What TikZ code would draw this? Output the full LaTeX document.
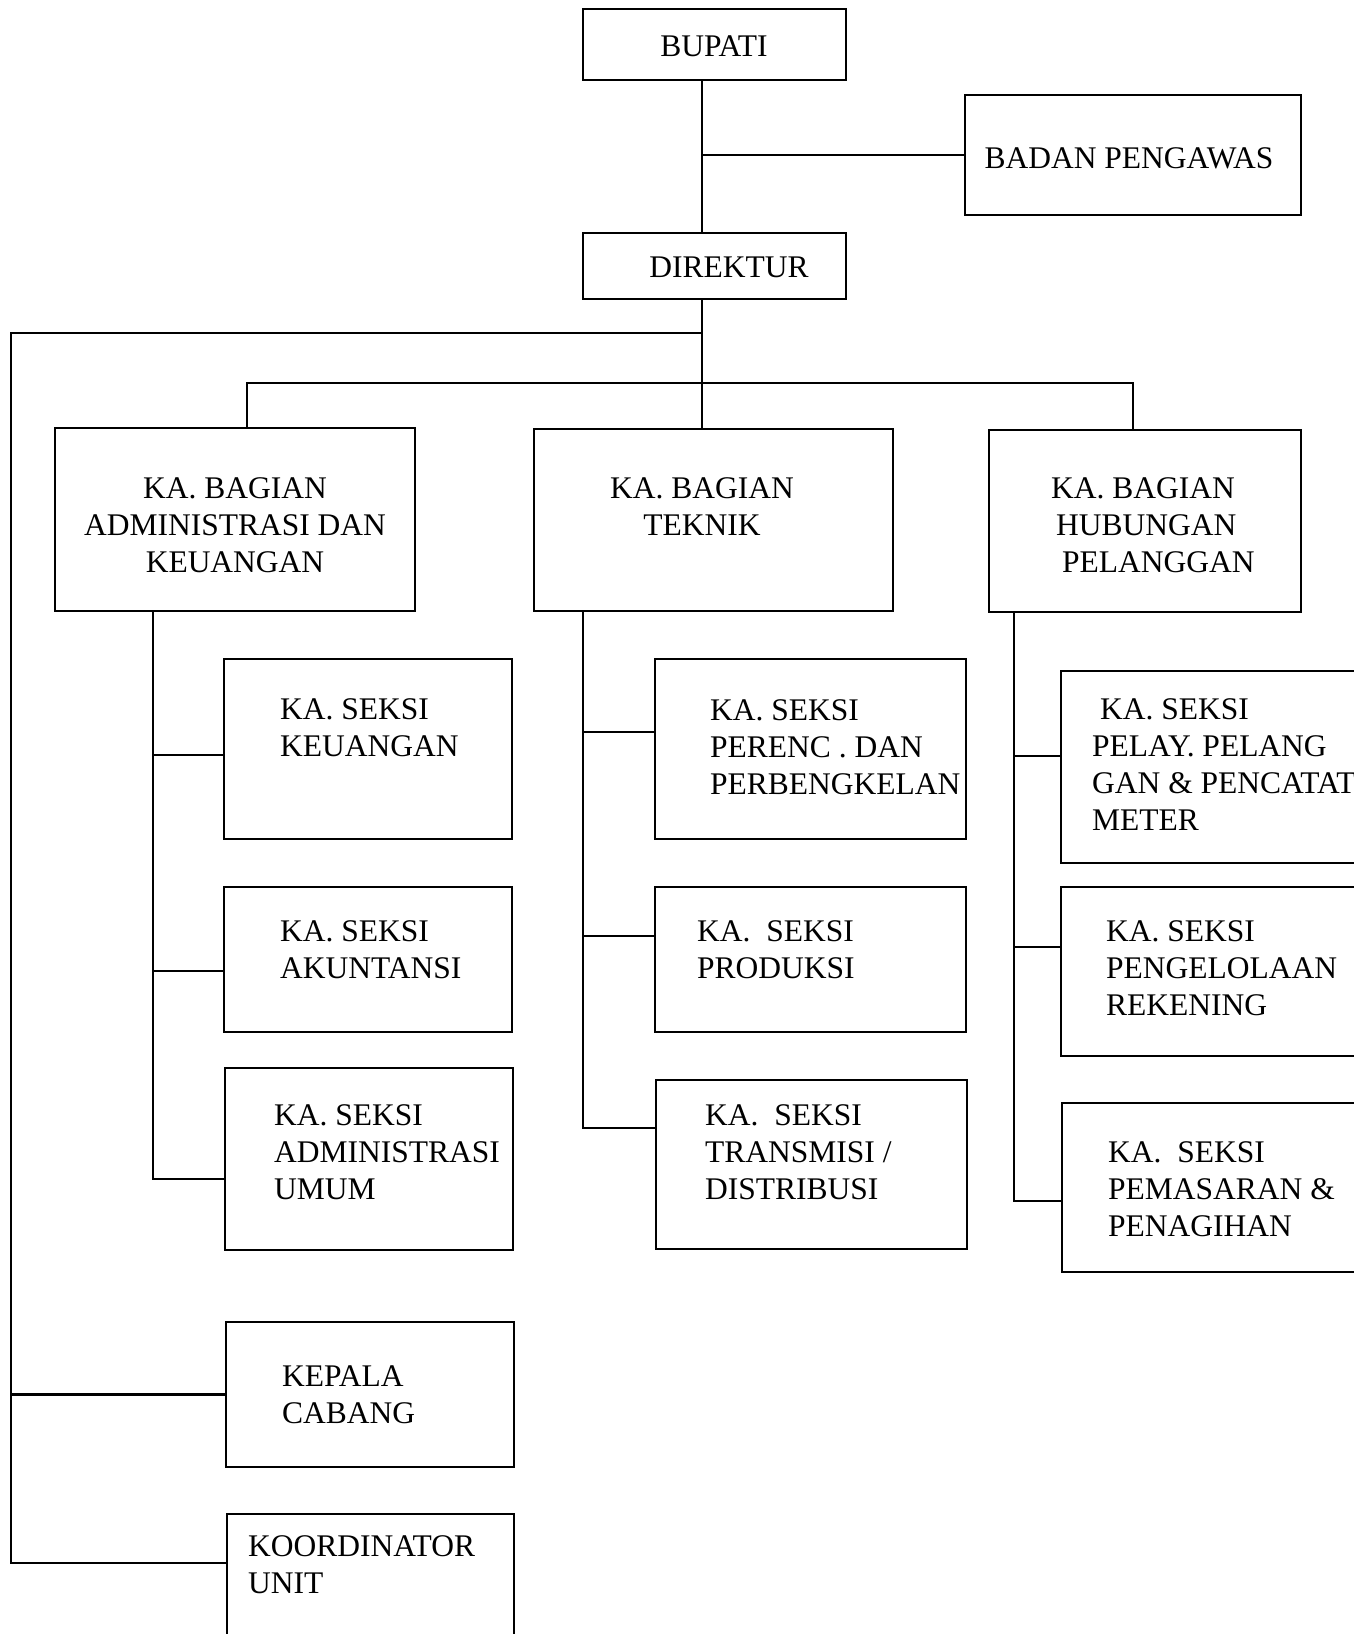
\documentclass[tikz,border=0pt]{standalone}
\usepackage{fontspec}
\setmainfont{Liberation Serif}
\usetikzlibrary{fit}
\begin{document}
\begin{tikzpicture}[x=1pt,y=-1pt,
  box/.style={draw, line width=2.5pt, inner sep=0pt},
  txt/.style={inner sep=0pt, text height=20.6pt, text depth=0pt, font=\fontsize{31.5}{37}\selectfont},
  lt/.style={txt, anchor=west, align=left},
  ct/.style={txt, align=center},
  conn/.style={line width=2.5pt, line cap=rect}]
\useasboundingbox (0,0) rectangle (1354,1634);
\clip (0,0) rectangle (1354,1634);
\fill[white] (0,0) rectangle (1354,1634);
% boxes
\node[box, fit={(583,9) (846,80)}] (bupati) {};
\node[box, fit={(965,95) (1301,215)}] (badan) {};
\node[box, fit={(583,233) (846,299)}] (direktur) {};
\node[box, fit={(55,428) (415,611)}] (adm) {};
\node[box, fit={(534,429) (893,611)}] (teknik) {};
\node[box, fit={(989,430) (1301,612)}] (hub) {};
\node[box, fit={(224,659) (512,839)}] (keu) {};
\node[box, fit={(224,887) (512,1032)}] (aku) {};
\node[box, fit={(225,1068) (513,1250)}] (umum) {};
\node[box, fit={(655,659) (966,839)}] (perenc) {};
\node[box, fit={(655,887) (966,1032)}] (prod) {};
\node[box, fit={(656,1080) (967,1249)}] (trans) {};
\node[box, fit={(1061,671) (1380,863)}] (pelay) {};
\node[box, fit={(1061,887) (1380,1056)}] (pengel) {};
\node[box, fit={(1062,1103) (1380,1272)}] (pemas) {};
\node[box, fit={(226,1322) (514,1467)}] (kepala) {};
\node[box, fit={(227,1514) (514,1660)}] (koord) {};
% texts (anchor = centre of last line)
\node[ct] (tbupati) at (714,46) {BUPATI};
\node[ct] (tbadan) at (1129,158) {BADAN PENGAWAS};
\node[ct] (tdirektur) at (729,267) {DIREKTUR};
\node[ct] (tadm) at (235,562) {KA. BAGIAN\\ADMINISTRASI DAN\\KEUANGAN};
\node[ct] (tteknik) at (702,525) {KA. BAGIAN\\TEKNIK};
\node[lt] (thub) at (1051,562) {KA. BAGIAN\\\hspace*{5pt}HUBUNGAN\\\hspace*{11pt}PELANGGAN};
\node[lt] (tkeu) at (280,746) {KA. SEKSI\\KEUANGAN};
\node[lt] (taku) at (280,968) {KA. SEKSI\\AKUNTANSI};
\node[lt] (tumum) at (274,1189) {KA. SEKSI\\ADMINISTRASI\\UMUM};
\node[lt] (tperenc) at (710,784) {KA. SEKSI\\PERENC . DAN\\PERBENGKELAN};
\node[lt] (tprod) at (697,968) {KA.\ \ SEKSI\\PRODUKSI};
\node[lt] (ttrans) at (705,1189) {KA.\ \ SEKSI\\TRANSMISI /\\DISTRIBUSI};
\node[lt] (tpelay) at (1092,820) {\hspace*{8pt}KA. SEKSI\\PELAY. PELANG\\GAN \& PENCATAT\\METER};
\node[lt] (tpengel) at (1106,1005) {KA. SEKSI\\PENGELOLAAN\\REKENING};
\node[lt] (tpemas) at (1108,1226) {KA.\ \ SEKSI\\PEMASARAN \&\\PENAGIHAN};
\node[lt] (tkepala) at (282,1413) {KEPALA\\CABANG};
\node[lt] (tkoord) at (248,1583) {KOORDINATOR\\UNIT};
% connector coordinates
\coordinate (tr) at (702,333);
\coordinate (lft) at (11,333);
\coordinate (ko) at (11,1563);
\coordinate (ab) at (247,383);
\coordinate (hb) at (1133,383);
\coordinate (a1) at (153,755);
\coordinate (a2) at (153,971);
\coordinate (a3) at (153,1179);
\coordinate (t1) at (583,732);
\coordinate (t2) at (583,936);
\coordinate (t3) at (583,1128);
\coordinate (h1) at (1014,756);
\coordinate (h2) at (1014,947);
\coordinate (h3) at (1014,1201);
% connectors
\draw[conn] (bupati.south -| tr) -- (direktur.north -| tr);
\draw[conn] (badan.west) -- (badan.west -| tr);
\draw[conn] (direktur.south -| tr) -- (teknik.north -| tr);
\draw[conn] (tr) -- (lft) -- (ko) -- (koord.west |- ko);
\draw[conn] (kepala.west) -- (kepala.west -| lft);
\draw[conn] (adm.north -| ab) -- (ab) -- (hb) -- (hub.north -| hb);
\draw[conn] (adm.south -| a1) -- (a3) -- (umum.west |- a3);
\draw[conn] (a1) -- (keu.west |- a1);
\draw[conn] (a2) -- (aku.west |- a2);
\draw[conn] (teknik.south -| t1) -- (t3) -- (trans.west |- t3);
\draw[conn] (t1) -- (perenc.west |- t1);
\draw[conn] (t2) -- (prod.west |- t2);
\draw[conn] (hub.south -| h1) -- (h3) -- (pemas.west |- h3);
\draw[conn] (h1) -- (pelay.west |- h1);
\draw[conn] (h2) -- (pengel.west |- h2);
\end{tikzpicture}
\end{document}
